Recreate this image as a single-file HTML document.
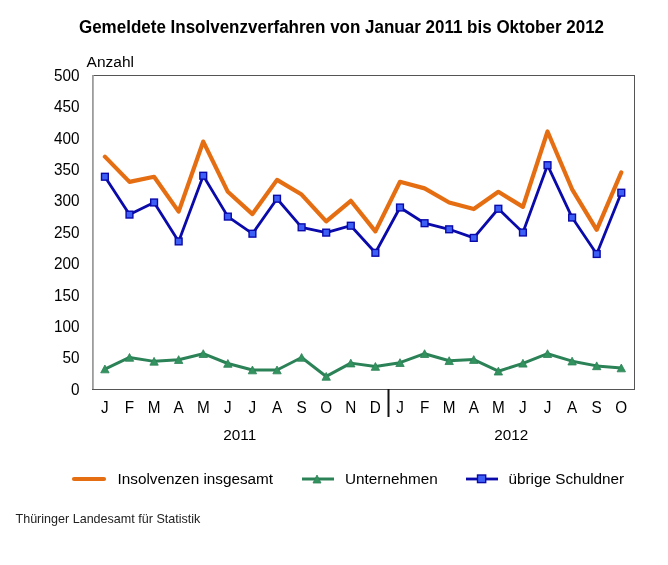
<!DOCTYPE html>
<html><head><meta charset="utf-8"><title>Insolvenzverfahren</title>
<style>html,body{margin:0;padding:0;background:#fff;width:668px;height:565px;overflow:hidden} svg{display:block;will-change:transform}</style>
</head><body>
<svg width="668" height="565" viewBox="0 0 668 565" font-family='"Liberation Sans", sans-serif'>
<rect width="668" height="565" fill="#ffffff"/>
<text transform="translate(341.50,32.60) scale(1,1.05)" text-anchor="middle" font-weight="bold" font-size="17" fill="#000">Gemeldete Insolvenzverfahren von Januar 2011 bis Oktober 2012</text>
<text transform="translate(86.60,67.00) scale(1,0.97)" font-size="15.5" fill="#000">Anzahl</text>
<line x1="93" y1="75.5" x2="634.5" y2="75.5" stroke="#555" stroke-width="1"/>
<line x1="634.5" y1="75" x2="634.5" y2="389.5" stroke="#555" stroke-width="1"/>
<line x1="92.9" y1="75" x2="92.9" y2="390" stroke="#9c9c9c" stroke-width="1.8"/>
<line x1="92" y1="389.5" x2="635" y2="389.5" stroke="#555" stroke-width="1"/>
<line x1="388.5" y1="389" x2="388.5" y2="417" stroke="#111" stroke-width="2"/>
<text transform="translate(79.50,394.80) scale(1,1.05)" text-anchor="end" font-size="15.3" fill="#000">0</text>
<text transform="translate(79.50,363.40) scale(1,1.05)" text-anchor="end" font-size="15.3" fill="#000">50</text>
<text transform="translate(79.50,332.00) scale(1,1.05)" text-anchor="end" font-size="15.3" fill="#000">100</text>
<text transform="translate(79.50,300.60) scale(1,1.05)" text-anchor="end" font-size="15.3" fill="#000">150</text>
<text transform="translate(79.50,269.20) scale(1,1.05)" text-anchor="end" font-size="15.3" fill="#000">200</text>
<text transform="translate(79.50,237.80) scale(1,1.05)" text-anchor="end" font-size="15.3" fill="#000">250</text>
<text transform="translate(79.50,206.40) scale(1,1.05)" text-anchor="end" font-size="15.3" fill="#000">300</text>
<text transform="translate(79.50,175.00) scale(1,1.05)" text-anchor="end" font-size="15.3" fill="#000">350</text>
<text transform="translate(79.50,143.60) scale(1,1.05)" text-anchor="end" font-size="15.3" fill="#000">400</text>
<text transform="translate(79.50,112.20) scale(1,1.05)" text-anchor="end" font-size="15.3" fill="#000">450</text>
<text transform="translate(79.50,80.80) scale(1,1.05)" text-anchor="end" font-size="15.3" fill="#000">500</text>
<text transform="translate(104.90,413.20) scale(1,1.03)" text-anchor="middle" font-size="15.3" fill="#000">J</text>
<text transform="translate(129.49,413.20) scale(1,1.03)" text-anchor="middle" font-size="15.3" fill="#000">F</text>
<text transform="translate(154.08,413.20) scale(1,1.03)" text-anchor="middle" font-size="15.3" fill="#000">M</text>
<text transform="translate(178.67,413.20) scale(1,1.03)" text-anchor="middle" font-size="15.3" fill="#000">A</text>
<text transform="translate(203.26,413.20) scale(1,1.03)" text-anchor="middle" font-size="15.3" fill="#000">M</text>
<text transform="translate(227.85,413.20) scale(1,1.03)" text-anchor="middle" font-size="15.3" fill="#000">J</text>
<text transform="translate(252.44,413.20) scale(1,1.03)" text-anchor="middle" font-size="15.3" fill="#000">J</text>
<text transform="translate(277.03,413.20) scale(1,1.03)" text-anchor="middle" font-size="15.3" fill="#000">A</text>
<text transform="translate(301.62,413.20) scale(1,1.03)" text-anchor="middle" font-size="15.3" fill="#000">S</text>
<text transform="translate(326.21,413.20) scale(1,1.03)" text-anchor="middle" font-size="15.3" fill="#000">O</text>
<text transform="translate(350.80,413.20) scale(1,1.03)" text-anchor="middle" font-size="15.3" fill="#000">N</text>
<text transform="translate(375.40,413.20) scale(1,1.03)" text-anchor="middle" font-size="15.3" fill="#000">D</text>
<text transform="translate(399.99,413.20) scale(1,1.03)" text-anchor="middle" font-size="15.3" fill="#000">J</text>
<text transform="translate(424.58,413.20) scale(1,1.03)" text-anchor="middle" font-size="15.3" fill="#000">F</text>
<text transform="translate(449.17,413.20) scale(1,1.03)" text-anchor="middle" font-size="15.3" fill="#000">M</text>
<text transform="translate(473.76,413.20) scale(1,1.03)" text-anchor="middle" font-size="15.3" fill="#000">A</text>
<text transform="translate(498.35,413.20) scale(1,1.03)" text-anchor="middle" font-size="15.3" fill="#000">M</text>
<text transform="translate(522.94,413.20) scale(1,1.03)" text-anchor="middle" font-size="15.3" fill="#000">J</text>
<text transform="translate(547.53,413.20) scale(1,1.03)" text-anchor="middle" font-size="15.3" fill="#000">J</text>
<text transform="translate(572.12,413.20) scale(1,1.03)" text-anchor="middle" font-size="15.3" fill="#000">A</text>
<text transform="translate(596.71,413.20) scale(1,1.03)" text-anchor="middle" font-size="15.3" fill="#000">S</text>
<text transform="translate(621.30,413.20) scale(1,1.03)" text-anchor="middle" font-size="15.3" fill="#000">O</text>
<text transform="translate(239.75,440.00) scale(1,1.0)" text-anchor="middle" font-size="15.3" fill="#000">2011</text>
<text transform="translate(511.15,440.00) scale(1,1.0)" text-anchor="middle" font-size="15.3" fill="#000">2012</text>
<polyline points="104.90,156.64 129.49,181.89 154.08,176.74 178.67,211.59 203.26,141.57 227.85,191.81 252.44,214.10 277.03,179.88 301.62,194.57 326.21,221.32 350.80,200.79 375.40,231.37 399.99,181.76 424.58,188.35 449.17,202.48 473.76,209.08 498.35,191.81 522.94,206.88 547.53,131.52 572.12,189.30 596.71,229.80 621.30,172.34" fill="none" stroke="#E66E12" stroke-width="4.2" stroke-linejoin="round" stroke-linecap="round"/>
<polyline points="104.90,176.74 129.49,214.60 154.08,202.48 178.67,241.42 203.26,175.73 227.85,216.61 252.44,233.70 277.03,198.72 301.62,227.29 326.21,232.63 350.80,225.72 375.40,252.79 399.99,207.51 424.58,223.21 449.17,229.30 473.76,237.90 498.35,208.76 522.94,232.50 547.53,165.18 572.12,217.56 596.71,253.98 621.30,192.69" fill="none" stroke="#0A0AAA" stroke-width="2.8" stroke-linejoin="round" stroke-linecap="round"/>
<rect x="101.50" y="173.34" width="6.8" height="6.8" fill="#3D5FF5" stroke="#0A0AAA" stroke-width="1.4"/>
<rect x="126.09" y="211.20" width="6.8" height="6.8" fill="#3D5FF5" stroke="#0A0AAA" stroke-width="1.4"/>
<rect x="150.68" y="199.08" width="6.8" height="6.8" fill="#3D5FF5" stroke="#0A0AAA" stroke-width="1.4"/>
<rect x="175.27" y="238.02" width="6.8" height="6.8" fill="#3D5FF5" stroke="#0A0AAA" stroke-width="1.4"/>
<rect x="199.86" y="172.33" width="6.8" height="6.8" fill="#3D5FF5" stroke="#0A0AAA" stroke-width="1.4"/>
<rect x="224.45" y="213.21" width="6.8" height="6.8" fill="#3D5FF5" stroke="#0A0AAA" stroke-width="1.4"/>
<rect x="249.04" y="230.30" width="6.8" height="6.8" fill="#3D5FF5" stroke="#0A0AAA" stroke-width="1.4"/>
<rect x="273.63" y="195.32" width="6.8" height="6.8" fill="#3D5FF5" stroke="#0A0AAA" stroke-width="1.4"/>
<rect x="298.22" y="223.89" width="6.8" height="6.8" fill="#3D5FF5" stroke="#0A0AAA" stroke-width="1.4"/>
<rect x="322.81" y="229.23" width="6.8" height="6.8" fill="#3D5FF5" stroke="#0A0AAA" stroke-width="1.4"/>
<rect x="347.40" y="222.32" width="6.8" height="6.8" fill="#3D5FF5" stroke="#0A0AAA" stroke-width="1.4"/>
<rect x="372.00" y="249.39" width="6.8" height="6.8" fill="#3D5FF5" stroke="#0A0AAA" stroke-width="1.4"/>
<rect x="396.59" y="204.11" width="6.8" height="6.8" fill="#3D5FF5" stroke="#0A0AAA" stroke-width="1.4"/>
<rect x="421.18" y="219.81" width="6.8" height="6.8" fill="#3D5FF5" stroke="#0A0AAA" stroke-width="1.4"/>
<rect x="445.77" y="225.90" width="6.8" height="6.8" fill="#3D5FF5" stroke="#0A0AAA" stroke-width="1.4"/>
<rect x="470.36" y="234.50" width="6.8" height="6.8" fill="#3D5FF5" stroke="#0A0AAA" stroke-width="1.4"/>
<rect x="494.95" y="205.36" width="6.8" height="6.8" fill="#3D5FF5" stroke="#0A0AAA" stroke-width="1.4"/>
<rect x="519.54" y="229.10" width="6.8" height="6.8" fill="#3D5FF5" stroke="#0A0AAA" stroke-width="1.4"/>
<rect x="544.13" y="161.78" width="6.8" height="6.8" fill="#3D5FF5" stroke="#0A0AAA" stroke-width="1.4"/>
<rect x="568.72" y="214.16" width="6.8" height="6.8" fill="#3D5FF5" stroke="#0A0AAA" stroke-width="1.4"/>
<rect x="593.31" y="250.58" width="6.8" height="6.8" fill="#3D5FF5" stroke="#0A0AAA" stroke-width="1.4"/>
<rect x="617.90" y="189.29" width="6.8" height="6.8" fill="#3D5FF5" stroke="#0A0AAA" stroke-width="1.4"/>
<polyline points="104.90,369.03 129.49,357.47 154.08,361.37 178.67,359.67 203.26,353.71 227.85,363.50 252.44,370.03 277.03,370.03 301.62,357.47 326.21,376.44 350.80,363.13 375.40,366.52 399.99,362.69 424.58,353.71 449.17,360.74 473.76,359.61 498.35,371.23 522.94,363.31 547.53,353.71 572.12,361.18 596.71,365.89 621.30,368.02" fill="none" stroke="#2C8257" stroke-width="3" stroke-linejoin="round" stroke-linecap="round"/>
<polygon points="104.90,365.03 109.10,372.83 100.70,372.83" fill="#33935F" stroke="#2C8257" stroke-width="0.8"/>
<polygon points="129.49,353.47 133.69,361.27 125.29,361.27" fill="#33935F" stroke="#2C8257" stroke-width="0.8"/>
<polygon points="154.08,357.37 158.28,365.17 149.88,365.17" fill="#33935F" stroke="#2C8257" stroke-width="0.8"/>
<polygon points="178.67,355.67 182.87,363.47 174.47,363.47" fill="#33935F" stroke="#2C8257" stroke-width="0.8"/>
<polygon points="203.26,349.71 207.46,357.51 199.06,357.51" fill="#33935F" stroke="#2C8257" stroke-width="0.8"/>
<polygon points="227.85,359.50 232.05,367.30 223.65,367.30" fill="#33935F" stroke="#2C8257" stroke-width="0.8"/>
<polygon points="252.44,366.03 256.64,373.83 248.24,373.83" fill="#33935F" stroke="#2C8257" stroke-width="0.8"/>
<polygon points="277.03,366.03 281.23,373.83 272.83,373.83" fill="#33935F" stroke="#2C8257" stroke-width="0.8"/>
<polygon points="301.62,353.47 305.82,361.27 297.42,361.27" fill="#33935F" stroke="#2C8257" stroke-width="0.8"/>
<polygon points="326.21,372.44 330.41,380.24 322.01,380.24" fill="#33935F" stroke="#2C8257" stroke-width="0.8"/>
<polygon points="350.80,359.13 355.00,366.93 346.60,366.93" fill="#33935F" stroke="#2C8257" stroke-width="0.8"/>
<polygon points="375.40,362.52 379.60,370.32 371.20,370.32" fill="#33935F" stroke="#2C8257" stroke-width="0.8"/>
<polygon points="399.99,358.69 404.19,366.49 395.79,366.49" fill="#33935F" stroke="#2C8257" stroke-width="0.8"/>
<polygon points="424.58,349.71 428.78,357.51 420.38,357.51" fill="#33935F" stroke="#2C8257" stroke-width="0.8"/>
<polygon points="449.17,356.74 453.37,364.54 444.97,364.54" fill="#33935F" stroke="#2C8257" stroke-width="0.8"/>
<polygon points="473.76,355.61 477.96,363.41 469.56,363.41" fill="#33935F" stroke="#2C8257" stroke-width="0.8"/>
<polygon points="498.35,367.23 502.55,375.03 494.15,375.03" fill="#33935F" stroke="#2C8257" stroke-width="0.8"/>
<polygon points="522.94,359.31 527.14,367.11 518.74,367.11" fill="#33935F" stroke="#2C8257" stroke-width="0.8"/>
<polygon points="547.53,349.71 551.73,357.51 543.33,357.51" fill="#33935F" stroke="#2C8257" stroke-width="0.8"/>
<polygon points="572.12,357.18 576.32,364.98 567.92,364.98" fill="#33935F" stroke="#2C8257" stroke-width="0.8"/>
<polygon points="596.71,361.89 600.91,369.69 592.51,369.69" fill="#33935F" stroke="#2C8257" stroke-width="0.8"/>
<polygon points="621.30,364.02 625.50,371.82 617.10,371.82" fill="#33935F" stroke="#2C8257" stroke-width="0.8"/>
<line x1="74" y1="479" x2="104" y2="479" stroke="#E66E12" stroke-width="4.2" stroke-linecap="round"/>
<text transform="translate(117.50,483.60) scale(1,1.0)" font-size="15.3" fill="#000">Insolvenzen insgesamt</text>
<line x1="302" y1="479" x2="334" y2="479" stroke="#2C8257" stroke-width="3"/>
<polygon points="317,475 321,483 313,483" fill="#33935F" stroke="#2C8257" stroke-width="0.8"/>
<text transform="translate(345.00,483.60) scale(1,1.0)" font-size="15.3" fill="#000">Unternehmen</text>
<line x1="466" y1="479" x2="498" y2="479" stroke="#0A0AAA" stroke-width="2.8"/>
<rect x="477.5" y="475" width="8.2" height="7.6" fill="#3D5FF5" stroke="#0A0AAA" stroke-width="1.4"/>
<text transform="translate(508.50,483.60) scale(1,1.0)" font-size="15.3" fill="#000">übrige Schuldner</text>
<text transform="translate(15.50,522.50) scale(1,1.0)" font-size="12.55" fill="#222">Thüringer Landesamt für Statistik</text>
</svg>
</body></html>
